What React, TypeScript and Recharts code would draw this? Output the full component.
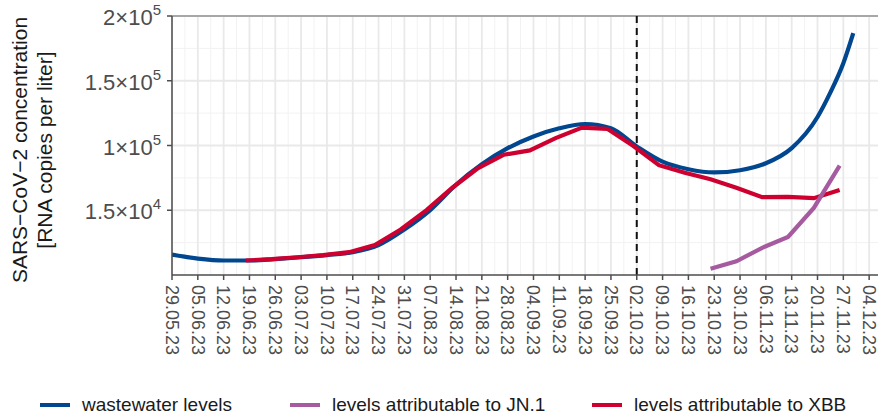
import React from "react";
import {
  LineChart,
  Line,
  XAxis,
  YAxis,
  CartesianGrid,
  ReferenceLine,
  Legend,
} from "recharts";

// days counted from 29.05.23
const xTickLabels = [
  "29.05.23", "05.06.23", "12.06.23", "19.06.23", "26.06.23", "03.07.23", "10.07.23",
  "17.07.23", "24.07.23", "31.07.23", "07.08.23", "14.08.23", "21.08.23", "28.08.23",
  "04.09.23", "11.09.23", "18.09.23", "25.09.23", "02.10.23", "09.10.23", "16.10.23",
  "23.10.23", "30.10.23", "06.11.23", "13.11.23", "20.11.23", "27.11.23", "04.12.23",
];
const xTicks = xTickLabels.map((_, i) => i * 7);
const xMinor = xTicks.map((d) => d + 3.5);

const yTicks = [50000, 100000, 150000, 200000];
const yTickBase = ["1.5×10", "1×10", "1.5×10", "2×10"];
const yTickExp = ["4", "5", "5", "5"];
const yMinor = [25000, 75000, 125000, 175000];

const wastewaterDays = [0, 7, 14, 21, 28, 35, 42, 49, 56, 63, 70, 77, 84, 91, 98, 105, 112, 119, 126, 133, 140, 147, 154, 161, 168, 175, 178.5, 182, 184.7];
const wastewaterValues = [15800, 12700, 11200, 11200, 12300, 13700, 15400, 17600, 23100, 35100, 50100, 69700, 85500, 97900, 107000, 113300, 116600, 113400, 99300, 87500, 81700, 79200, 80900, 86300, 98000, 122000, 141000, 163500, 186700];

const xbbDays = [20, 27, 34, 41, 48, 55, 62, 69, 76, 83, 90, 97, 104, 111, 118, 125, 132, 139, 146, 153, 160, 167, 174, 181];
const xbbValues = [11200, 12200, 13700, 15400, 17600, 23100, 35100, 50100, 67400, 82600, 92900, 96200, 105700, 113700, 112900, 99800, 84800, 79000, 74000, 67400, 60100, 60300, 59300, 65700];

const jnDays = [146, 153, 160, 167, 174, 181];
const jnValues = [4800, 10600, 21000, 29400, 51800, 84400];

const cutoffDay = 126;

const toRows = (days: number[], vals: number[]) =>
  days.map((day, i) => ({ day, value: vals[i] }));

const wastewater = toRows(wastewaterDays, wastewaterValues);
const xbb = toRows(xbbDays, xbbValues);
const jn = toRows(jnDays, jnValues);

const FONT = "'Liberation Sans', Arial, sans-serif";
const BLUE = "#00478F";
const PURPLE = "#A65AA0";
const RED = "#CE0030";

const legendLabels = ["wastewater levels", "levels attributable to JN.1", "levels attributable to XBB"];
const legendColors = [BLUE, PURPLE, RED];
const legendSlots = [250, 302, 286];

function XTick({ x, y, payload }: any) {
  const i = xTicks.indexOf(payload.value);
  return (
    <g transform={`translate(${x},${y})`}>
      <text
        transform="rotate(90)"
        x={5}
        y={0}
        dy="0.35em"
        textAnchor="start"
        fontSize={18}
        fill="#4d4d4d"
        fontFamily={FONT}
      >
        {xTickLabels[i]}
      </text>
    </g>
  );
}

function YTick({ x, y, payload }: any) {
  const i = yTicks.indexOf(payload.value);
  return (
    <text x={x - 4} y={y + 9} textAnchor="end" fill="#4d4d4d" fontFamily={FONT}>
      <tspan fontSize={22}>{yTickBase[i]}</tspan>
      <tspan fontSize={15} dy={-10}>{yTickExp[i]}</tspan>
    </text>
  );
}

function YTitle() {
  return (
    <text
      transform="translate(0,150) rotate(-90)"
      textAnchor="middle"
      fontSize={21}
      fill="#1a1a1a"
      fontFamily={FONT}
    >
      <tspan x={0} y={27}>SARS−CoV−2 concentration</tspan>
      <tspan x={0} y={52}>[RNA copies per liter]</tspan>
    </text>
  );
}

function LegendBox() {
  return (
    <div style={{ display: "flex", alignItems: "center", height: 29, width: 878, paddingLeft: 40, boxSizing: "border-box", fontFamily: FONT, fontSize: 19, color: "#1a1a1a", whiteSpace: "nowrap" }}>
      {legendLabels.map((label, i) => (
        <div key={label} style={{ display: "flex", alignItems: "center", width: legendSlots[i], flexShrink: 0 }}>
          <div style={{ width: 30, height: 4, background: legendColors[i], marginRight: 12 }} />
          <span>{label}</span>
        </div>
      ))}
    </div>
  );
}

export default function App() {
  return (
    <div style={{ position: "absolute", left: 0, top: 0, background: "#fff" }}>
      <LineChart width={878} height={419} margin={{ top: 16, right: 0, bottom: 0, left: 0 }}>
        <CartesianGrid
          horizontalValues={yMinor}
          verticalValues={xMinor}
          stroke="#f2f2f2"
          strokeWidth={1}
        />
        <CartesianGrid
          horizontalValues={yTicks}
          verticalValues={xTicks}
          stroke="#e9e9e9"
          strokeWidth={1.8}
        />
        <XAxis
          type="number"
          dataKey="day"
          domain={[0, 191.4]}
          ticks={xTicks}
          interval={0}
          allowDataOverflow
          height={115}
          tick={<XTick />}
          tickSize={5}
          tickMargin={0}
          stroke="#4d4d4d"
          axisLine={{ stroke: "#4d4d4d", strokeWidth: 1.5 }}
          tickLine={{ stroke: "#4d4d4d", strokeWidth: 1.5 }}
        />
        <YAxis
          type="number"
          domain={[0, 200000]}
          ticks={yTicks}
          interval={0}
          width={172}
          tick={<YTick />}
          tickSize={5}
          axisLine={{ stroke: "#4d4d4d", strokeWidth: 1.5 }}
          tickLine={{ stroke: "#4d4d4d", strokeWidth: 1.5 }}
          label={<YTitle />}
        />
        <ReferenceLine y={200000} stroke="#666" strokeWidth={1.2} />
        <ReferenceLine x={cutoffDay} stroke="#111" strokeWidth={2} strokeDasharray="7 5" />
        <Line data={wastewater} dataKey="value" type="monotone" stroke={BLUE} strokeWidth={4.2} dot={false} isAnimationActive={false} name="wastewater levels" />
        <Line data={xbb} dataKey="value" type="linear" stroke={RED} strokeWidth={4.2} dot={false} isAnimationActive={false} name="levels attributable to XBB" />
        <Line data={jn} dataKey="value" type="linear" stroke={PURPLE} strokeWidth={4.2} dot={false} isAnimationActive={false} name="levels attributable to JN.1" />
        <Legend verticalAlign="bottom" wrapperStyle={{ left: 0, width: 878 }} content={<LegendBox />} />
      </LineChart>
    </div>
  );
}
